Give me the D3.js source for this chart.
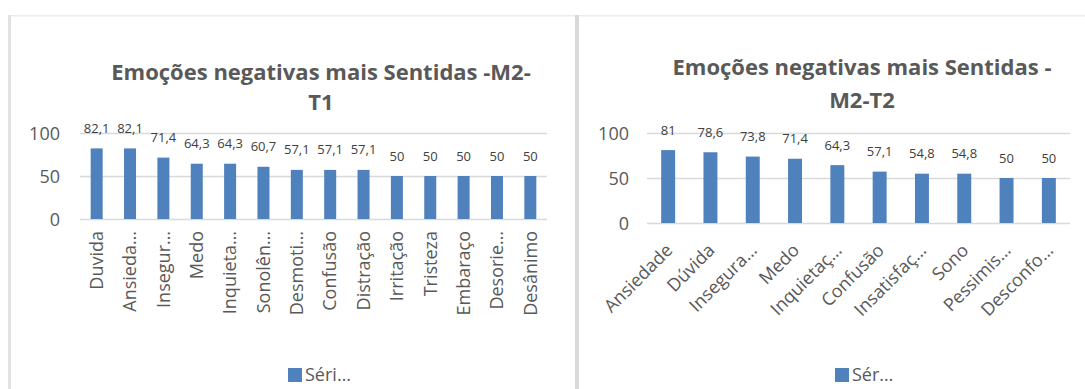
<!DOCTYPE html>
<html>
<head>
<meta charset="utf-8">
<script src="https://cdn.jsdelivr.net/npm/d3@7"></script>
<style>
  html, body { margin: 0; padding: 0; background: #ffffff; }
  svg { display: block; font-family: "Open Sans", sans-serif; }
</style>
</head>
<body>
<svg id="chart" width="1085" height="389"></svg>
<script>
// Chart 1: M2-T1
const categoriesT1 = ["Duvida", "Ansieda…", "Insegur…", "Medo", "Inquieta…", "Sonolên…", "Desmoti…",
  "Confusão", "Distração", "Irritação", "Tristeza", "Embaraço", "Desorie…", "Desânimo"];
const valuesT1 = [82.1, 82.1, 71.4, 64.3, 64.3, 60.7, 57.1, 57.1, 57.1, 50, 50, 50, 50, 50];
const titleT1 = ["Emoções negativas mais Sentidas -M2-", "T1"];
const legendT1 = "Séri…";

// Chart 2: M2-T2
const categoriesT2 = ["Ansiedade", "Dúvida", "Insegura…", "Medo", "Inquietaç…", "Confusão",
  "Insatisfaç…", "Sono", "Pessimis…", "Desconfo…"];
const valuesT2 = [81, 78.6, 73.8, 71.4, 64.3, 57.1, 54.8, 54.8, 50, 50];
const titleT2 = ["Emoções negativas mais Sentidas -", "M2-T2"];
const legendT2 = "Sér…";

const yTicks = [0, 50, 100];

const BAR = "#4f81bd";
const GRID = "#d9d9d9";
const AXIS_TEXT = "#595959";
const LABEL_TEXT = "#404040";

const svg = d3.select("#chart");

// panel frames
svg.append("rect").attr("x", 8).attr("y", 15).attr("width", 1077).attr("height", 1.5).attr("fill", "#ececec");
svg.append("rect").attr("x", 8).attr("y", 15).attr("width", 3).attr("height", 374).attr("fill", "#e2e2e2");
svg.append("rect").attr("x", 575).attr("y", 15).attr("width", 4).attr("height", 374).attr("fill", "#d9d9d9");

function drawChart(cfg) {
  const g = svg.append("g");
  const x = d3.scaleBand().domain(cfg.categories).range([cfg.x0, cfg.x1]).paddingInner(cfg.pad).paddingOuter(cfg.pad / 2);
  const y = d3.scaleLinear().domain([0, 100]).range([cfg.yBottom, cfg.yTop]);

  // gridlines + tick labels
  const yAxis = d3.axisLeft(y).tickValues(yTicks).tickSize(-(cfg.x1 - cfg.x0)).tickPadding(20).tickFormat(d3.format("d"));
  const ay = g.append("g").attr("transform", `translate(${cfg.x0},0)`).call(yAxis);
  ay.select(".domain").remove();
  ay.selectAll(".tick line").attr("stroke", GRID).attr("stroke-width", 1.4);
  ay.selectAll(".tick text").attr("fill", AXIS_TEXT).attr("font-size", 18)
    .attr("font-family", "Open Sans, sans-serif").attr("x", cfg.tickRight - cfg.x0).attr("dy", "0.35em");

  // bars
  g.selectAll("rect.bar").data(cfg.values).join("rect").attr("class", "bar")
    .attr("x", (d, i) => x(cfg.categories[i]))
    .attr("width", x.bandwidth())
    .attr("y", d => y(d))
    .attr("height", d => y(0) - y(d))
    .attr("fill", BAR);

  // value labels
  g.selectAll("text.val").data(cfg.values).join("text").attr("class", "val")
    .attr("x", (d, i) => x(cfg.categories[i]) + x.bandwidth() / 2)
    .attr("y", d => y(d) - 20)
    .attr("dy", "0.35em")
    .attr("text-anchor", "middle")
    .attr("font-size", 13)
    .attr("fill", LABEL_TEXT)
    .text(d => d3.format(",")(d).replace(".", ","));

  // category labels
  const xAxis = d3.axisBottom(x).tickSize(0).tickPadding(0);
  const ax = g.append("g").attr("transform", `translate(0,${cfg.yBottom})`).call(xAxis);
  ax.select(".domain").remove();
  ax.selectAll(".tick text").attr("fill", AXIS_TEXT).attr("font-size", 18)
    .attr("font-family", "Open Sans, sans-serif")
    .attr("text-anchor", "end")
    .attr("transform", cfg.labelTransform)
    .attr("x", 0).attr("y", 0).attr("dy", "0.35em");

  // title
  const t = g.append("text").attr("text-anchor", "middle").attr("font-weight", "bold")
    .attr("font-size", cfg.titleSize).attr("fill", AXIS_TEXT);
  cfg.title.forEach((line, i) => {
    t.append("tspan").attr("x", cfg.titleX).attr("y", cfg.titleY[i]).attr("dy", "0.35em").text(line);
  });

  // legend
  g.append("rect").attr("x", cfg.legendX).attr("y", 368).attr("width", 14).attr("height", 14).attr("fill", BAR);
  g.append("text").attr("x", cfg.legendX + 17).attr("y", 375).attr("dy", "0.35em")
    .attr("font-size", 18).attr("fill", AXIS_TEXT).text(cfg.legend);
}

drawChart({
  categories: categoriesT1, values: valuesT1, title: titleT1, legend: legendT1,
  x0: 80, x1: 547, yTop: 133, yBottom: 219, pad: 0.64, tickRight: 60,
  labelTransform: "translate(0,12) rotate(-90)",
  titleX: 321, titleY: [72, 102], titleSize: 22, legendX: 288
});

drawChart({
  categories: categoriesT2, values: valuesT2, title: titleT2, legend: legendT2,
  x0: 647, x1: 1070, yTop: 133, yBottom: 223, pad: 0.67, tickRight: 629,
  labelTransform: "translate(1,24) rotate(-45)",
  titleX: 862, titleY: [67, 100], titleSize: 22, legendX: 835
});
</script>
</body>
</html>
